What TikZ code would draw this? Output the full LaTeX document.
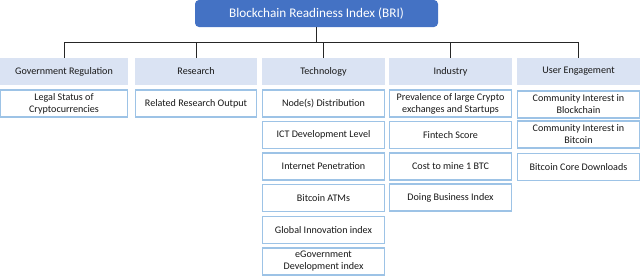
\documentclass[tikz,border=0pt]{standalone}
\usepackage{fontspec}
\setmainfont{Carlito}
\usetikzlibrary{calc}

\definecolor{briblue}{RGB}{68,114,196}
\definecolor{headfill}{RGB}{218,227,243}
\definecolor{itemline}{RGB}{157,195,230}
\definecolor{textgray}{RGB}{25,25,25}

\begin{document}
\begin{tikzpicture}[x=1pt, y=-1pt, line width=0.8pt,
		title/.style={fill=briblue, rounded corners=4pt, text=white, inner sep=0pt,
			minimum width=243pt, minimum height=27pt, font=\fontsize{13.2}{15}\selectfont},
		head/.style={fill=headfill, inner sep=0pt, text=textgray,
			minimum height=27pt, font=\fontsize{10.1}{12}\selectfont},
		item/.style={draw=itemline, line width=1.2pt, fill=white, inner sep=0pt, text=textgray,
			align=center, minimum height=27pt, font=\fontsize{10.1}{12}\selectfont},
		link/.style={draw=black!85, line width=0.8pt}]
	
	\useasboundingbox (0,0) rectangle (640,276);
	
	\node[title] (bri) at (316.5,13.5) {Blockchain Readiness Index (BRI)};
	\coordinate (bus) at (316.5,42);
	
	% column heads
	\node[head, minimum width=128pt] (gov)  at ( 64.0,71.5) {Government Regulation};
	\node[head, minimum width=122pt] (res)  at (196.0,71.5) {Research};
	\node[head, minimum width=123pt] (tech) at (323.5,71.5) {Technology};
	\node[head, minimum width=123pt] (ind)  at (450.5,71.5) {Industry};
	\node[head, minimum width=123pt] (eng)  at (578.5,71.5) {User Engagement};
	
	\draw[link] (bri.south) -- (bri.south |- bus);
	\draw[link] (gov.north) |- (eng.north |- bus) -- (eng.north);
	\foreach \h in {res,tech,ind}
	\draw[link] (\h.north) -- (\h.north |- bus);
	
	% indicators
	\node[item, minimum width=127pt] (gov1) at ( 64.0,103.5) {Legal Status of\\Cryptocurrencies};
	\node[item, minimum width=121pt] (res1) at (196.0,103.5) {Related Research Output};
	
	\node[item, minimum width=122pt] (tech1) at (323.5,103.5) {Node(s) Distribution};
	\node[item, minimum width=122pt] (tech2) at (323.5,135.0) {ICT Development Level};
	\node[item, minimum width=122pt] (tech3) at (323.5,166.5) {Internet Penetration};
	\node[item, minimum width=122pt] (tech4) at (323.5,198.0) {Bitcoin ATMs};
	\node[item, minimum width=122pt] (tech5) at (323.5,230.0) {Global Innovation index};
	\node[item, minimum width=122pt] (tech6) at (323.5,261.5) {eGovernment\\Development index};
	
	\node[item, minimum width=122pt] (ind1) at (450.5,103.5) {Prevalence of large Crypto\\exchanges and Startups};
	\node[item, minimum width=122pt] (ind2) at (450.5,135.0) {Fintech Score};
	\node[item, minimum width=122pt] (ind3) at (450.5,166.5) {Cost to mine 1 BTC};
	\node[item, minimum width=122pt] (ind4) at (450.5,197.5) {Doing Business Index};
	
	\node[item, minimum width=122pt] (eng1) at (578.5,104.5) {Community Interest in\\Blockchain};
	\node[item, minimum width=122pt] (eng2) at (578.5,134.5) {Community Interest in\\Bitcoin};
	\node[item, minimum width=122pt] (eng3) at (578.5,167.0) {Bitcoin Core Downloads};
	
\end{tikzpicture}
\end{document}
